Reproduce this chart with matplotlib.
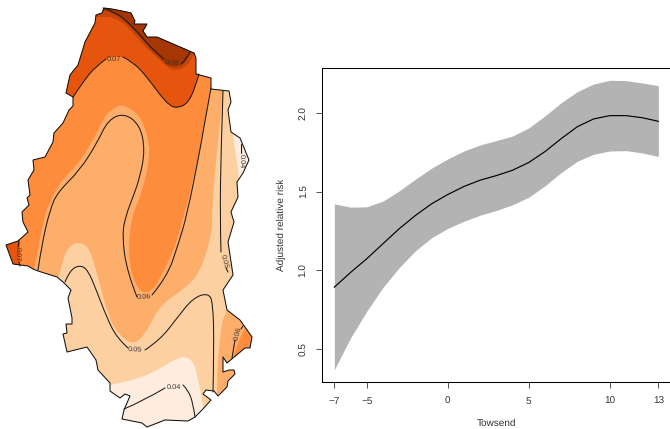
import matplotlib
matplotlib.use("Agg")
import matplotlib.pyplot as plt
from matplotlib.path import Path
from matplotlib.patches import PathPatch

plt.rcParams['font.family'] = ['Liberation Sans', 'DejaVu Sans']
plt.rcParams['text.hinting'] = 'no_hinting'

# Right panel: smooth effect of Towsend score
towsend = [-7, -6, -5, -4, -3, -2, -1, 0, 1, 2, 3, 4, 5, 6, 7, 8, 9, 10, 11, 12, 13]
risk = [0.894, 0.987, 1.074, 1.169, 1.264, 1.348, 1.422, 1.481, 1.532, 1.572, 1.601,
        1.635, 1.684, 1.753, 1.835, 1.911, 1.960, 1.981, 1.981, 1.968, 1.945]
risk_upper = [1.422, 1.401, 1.403, 1.439, 1.504, 1.578, 1.648, 1.707, 1.757, 1.795, 1.823,
              1.852, 1.903, 1.979, 2.063, 2.133, 2.181, 2.205, 2.203, 2.188, 2.171]
risk_lower = [0.371, 0.572, 0.741, 0.892, 1.017, 1.124, 1.207, 1.266, 1.312, 1.350, 1.380,
              1.416, 1.464, 1.536, 1.620, 1.692, 1.736, 1.757, 1.759, 1.745, 1.722]
x_ticks = [-7, -5, 0, 5, 10, 13]
x_tick_labels = ['\u22127', '\u22125', '0', '5', '10', '13']
y_ticks = [0.5, 1.0, 1.5, 2.0]

# Left panel: map traced in image pixels
outline = [(104, 8), (112, 9), (127, 12), (131, 13), (135, 21), (134, 24), (147, 24), (143, 31),
           (147, 37), (157, 37), (194, 53), (196, 58), (196, 74), (211, 78), (211, 89), (229, 91),
           (231, 102), (228, 110), (231, 132), (240, 138), (249, 160), (243, 173), (237, 182),
           (238, 197), (231, 212), (234, 222), (228, 242), (233, 275), (223, 290), (227, 310),
           (240, 320), (252, 337), (250, 348), (245, 348), (227, 363), (223, 357), (223, 372),
           (229, 370), (234, 370), (235, 374), (228, 381), (227, 387), (218, 396), (214, 391),
           (206, 390), (203, 394), (211, 400), (202, 410), (195, 417), (188, 421), (165, 420),
           (147, 427), (142, 423), (122, 419), (124, 410), (130, 396), (125, 394), (120, 398),
           (110, 391), (110, 383), (98, 370), (96, 360), (87, 347), (67, 352), (63, 334), (67, 333),
           (66, 324), (72, 324), (72, 318), (68, 298), (71, 290), (63, 282), (57, 277), (38, 271),
           (33, 269), (28, 266), (13, 264), (6, 245), (18, 241), (28, 232), (23, 222), (22, 212),
           (29, 205), (27, 198), (30, 195), (28, 180), (34, 170), (33, 160), (45, 157), (53, 142),
           (54, 133), (63, 123), (69, 110), (73, 106), (73, 97), (66, 93), (70, 75), (78, 65),
           (85, 42), (95, 23), (96, 15), (102, 13)]

# band edges, then the corners that close each band outside the outline
edge_dark = [(96, 8), (103, 10), (115, 14), (127, 23), (140, 37), (153, 52), (163, 62), (172, 68),
             (181, 66), (187, 61), (192, 50)]
corners_dark = [(200, 0), (90, 0)]
edge_strip = [(92, 17), (103, 17), (113, 17), (123, 23), (133, 33), (145, 47), (158, 58), (168, 68),
              (177, 71), (187, 66), (192, 58), (196, 50)]
corners_strip = [(205, 0), (85, 0)]
edge_07 = [(66, 104), (73, 97), (83, 82), (95, 67), (105, 59), (114, 56), (123, 57), (133, 62),
           (147, 77), (160, 95), (170, 106), (178, 108), (188, 103), (195, 88), (199, 72)]
corners_07 = [(215, 60), (215, 0), (60, 0)]
edge_corner_07 = [(19, 235), (21, 250), (20, 270)]
corners_corner_07 = [(0, 270), (0, 235)]
edge_fd8 = [(33, 275), (37, 255), (45, 213), (50, 203), (58, 185), (72, 170), (83, 157), (97, 133),
            (105, 115), (117, 106), (124, 105), (140, 115), (148, 137), (150, 157), (142, 193),
            (132, 215), (128, 248), (132, 278), (142, 294), (153, 290), (160, 278), (173, 252),
            (180, 230), (187, 205), (200, 150), (211, 88), (213, 75)]
corners_fd8 = [(215, 0), (0, 0), (0, 275)]
edge_fdb = [(224, 85), (217, 150), (212, 205), (212, 235), (200, 272), (187, 287), (160, 305),
            (150, 326), (137, 344), (124, 340), (110, 322), (100, 285), (90, 248), (80, 242),
            (70, 245), (63, 258), (58, 280)]
corners_fdb = [(0, 285), (0, 0), (224, 0)]
edge_fdb_right = [(229, 306), (223, 317), (220, 337), (218, 360), (217, 380), (217, 400)]
corners_fdb_right = [(260, 400), (260, 306)]
edge_fd8_right = [(246, 326), (238, 342), (233, 358), (231, 365)]
corners_fd8_right = [(260, 365), (260, 326)]
edge_light = [(105, 386), (137, 380), (163, 367), (177, 358), (188, 357), (195, 365), (198, 380),
              (202, 398), (204, 415)]
corners_light = [(204, 429), (105, 429)]
edge_light_nub = [(232, 128), (235, 150), (238, 167), (239, 182)]
corners_light_nub = [(260, 182), (260, 128)]

# contour lines, split where a label sits
contour_lines = [
    [(103, 8), (115, 12), (127, 21), (140, 35), (153, 50), (164, 59)],
    [(181, 64), (186, 60), (190, 52)],
    [(73, 97), (83, 82), (95, 67), (106, 59)],
    [(123, 57), (133, 62), (147, 77), (160, 95), (170, 106), (178, 108), (188, 103), (195, 88), (199, 74)],
    [(19, 241), (18, 247)],
    [(19, 262), (20, 266)],
    [(38, 270), (42, 243), (50, 210), (57, 193), (80, 170), (97, 143), (108, 120), (124, 113),
     (140, 125), (145, 150), (140, 177), (133, 197), (126, 215), (122, 235), (127, 272), (137, 297)],
    [(152, 295), (167, 277), (178, 245), (187, 215), (200, 150), (203, 132), (211, 88)],
    [(243, 326), (241, 329)],
    [(235, 340), (232, 358)],
    [(65, 282), (70, 270), (80, 265), (88, 270), (97, 292), (107, 318), (117, 338), (128, 348)],
    [(145, 350), (160, 340), (177, 318), (193, 298), (208, 293), (213, 302), (214, 348), (213, 392)],
    [(223, 91), (221, 150), (220, 220), (221, 252)],
    [(226, 268), (228, 272)],
    [(124, 409), (143, 401), (165, 388)],
    [(183, 385), (188, 390), (193, 403), (195, 417)],
    [(241, 144), (241, 153)],
]
contour_labels = ['0.08', '0.07', '0.07', '0.06', '0.06', '0.05', '0.05', '0.04', '0.04']
label_x = [172, 114, 18, 144, 238, 135, 224, 174, 242]
label_y = [63, 59, 254, 297, 334, 350, 261, 387, 161]
label_rot = [-5, 0, 270, 3, 75, -3, 285, 0, 270]


def curve(points):
    # points act as control points of a quadratic spline, so edges come out smooth
    verts = [points[0]]
    codes = [Path.MOVETO]
    for a, b in zip(points[1:-1], points[2:]):
        end = b if b == points[-1] else ((a[0] + b[0]) / 2, (a[1] + b[1]) / 2)
        verts += [a, end]
        codes += [Path.CURVE3, Path.CURVE3]
    return verts, codes


def add_band(ax, edge, corners, color, clip):
    verts, codes = curve(edge)
    verts = verts + corners + [edge[0]]
    codes = codes + [Path.LINETO] * len(corners) + [Path.CLOSEPOLY]
    patch = PathPatch(Path(verts, codes), facecolor=color, edgecolor='none', lw=0)
    ax.add_patch(patch)
    patch.set_clip_path(clip)


fig = plt.figure(figsize=(6.7, 4.29), dpi=100)

# map panel in pixel coordinates
ax_map = fig.add_axes([0, 0, 1, 1])
ax_map.set_xlim(0, 670)
ax_map.set_ylim(429, 0)
ax_map.axis('off')

border = PathPatch(Path(outline + [outline[0]], closed=True), facecolor='#FDD0A2', edgecolor='none', lw=0)
ax_map.add_patch(border)

add_band(ax_map, edge_light, corners_light, '#FEEDDE', border)
add_band(ax_map, edge_light_nub, corners_light_nub, '#FEEDDE', border)
add_band(ax_map, edge_fdb, corners_fdb, '#FDAE6B', border)
add_band(ax_map, edge_fdb_right, corners_fdb_right, '#FDAE6B', border)
add_band(ax_map, edge_fd8, corners_fd8, '#FD8D3C', border)
add_band(ax_map, edge_fd8_right, corners_fd8_right, '#FD8D3C', border)
add_band(ax_map, edge_07, corners_07, '#E6550D', border)
add_band(ax_map, edge_corner_07, corners_corner_07, '#E6550D', border)
add_band(ax_map, edge_strip, corners_strip, '#C6470A', border)
add_band(ax_map, edge_dark, corners_dark, '#A63603', border)

for line in contour_lines:
    verts, codes = curve(line) if len(line) > 2 else (line, [Path.MOVETO, Path.LINETO])
    ax_map.add_patch(PathPatch(Path(verts, codes), facecolor='none', edgecolor='#1a1a1a', lw=0.75,
                               capstyle='round'))

ax_map.add_patch(PathPatch(Path(outline + [outline[0]], closed=True), facecolor='none',
                           edgecolor='#111111', lw=0.75, joinstyle='round'))

for txt, x, y, rot in zip(contour_labels, label_x, label_y, label_rot):
    ax_map.text(x, y, txt, fontsize=5.3, color='#333333', rotation=rot, rotation_mode='anchor',
                ha='center', va='center')

# risk panel, right edge of the box falls just past the image
left, right, top, bottom = 321.7, 671.0, 68.3, 382.3
ax = fig.add_axes([left / 670, 1 - bottom / 429, (right - left) / 670, (bottom - top) / 429])
ax.set_xlim(-7.78, 13.78)
ax.set_ylim(0.291, 2.281)
ax.fill_between(towsend, risk_lower, risk_upper, color='#B3B3B3', lw=0)
ax.plot(towsend, risk, color='black', lw=0.85)
for s in ax.spines.values():
    s.set_linewidth(0.75)
ax.set_xticks(x_ticks)
ax.set_xticklabels(x_tick_labels)
ax.set_yticks(y_ticks)
ax.set_yticklabels(['%.1f' % v for v in y_ticks], rotation=90, va='center')
ax.tick_params(axis='both', length=4.5, width=0.6, labelsize=7.2, color='#333333', labelcolor='#333333')
ax.tick_params(axis='x', pad=5.8)
ax.tick_params(axis='y', pad=5)
ax.set_xlabel('Towsend', fontsize=7.2, color='#333333', labelpad=9.5)
ax.set_ylabel('Adjusted relative risk', fontsize=7.2, color='#333333', labelpad=9.5)

fig.savefig('out.png', dpi=100)
